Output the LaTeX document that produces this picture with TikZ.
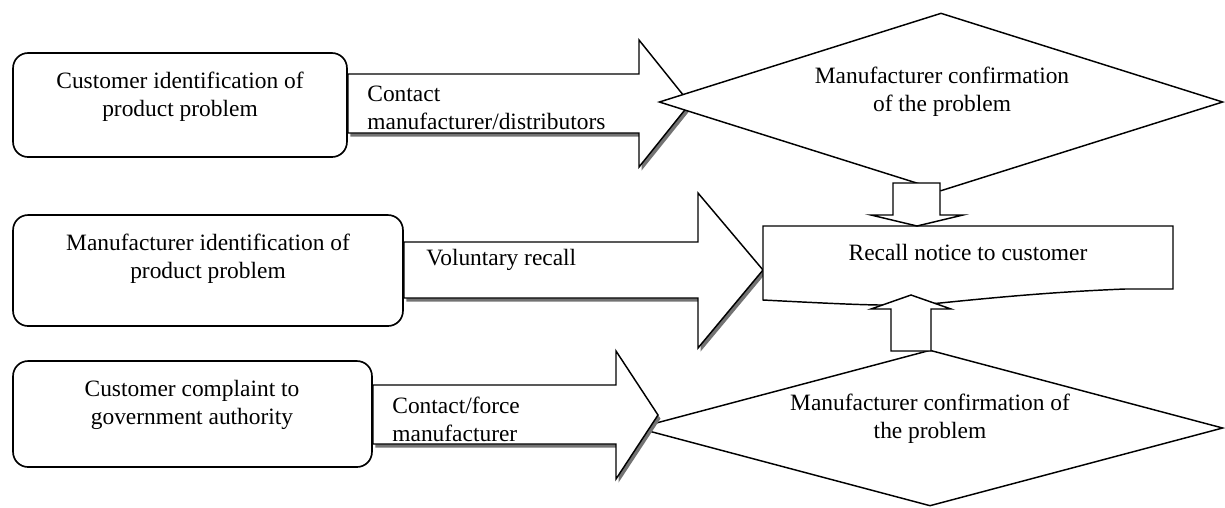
\documentclass[tikz,border=0pt]{standalone}
\usepackage{fontspec}
\setmainfont{Liberation Serif}
\usetikzlibrary{shapes.geometric}

\begin{document}
\begin{tikzpicture}[x=0.018cm, y=-0.018cm,
    every node/.style={font=\fontsize{12}{14.4}\selectfont, inner sep=0pt},
    proc/.style={draw, rounded corners=0.27cm, line width=0.85pt, fill=white},
    lbl/.style={align=center},
    blk/.style={draw, line width=0.75pt, fill=white,
      preaction={fill=black!55, transform canvas={xshift=0.045cm, yshift=-0.065cm}}},
    flat/.style={draw, line width=0.75pt, fill=white},
    judge/.style={diamond, draw, line width=0.75pt, fill=white}]

  \useasboundingbox (0,0) rectangle (1225,507);

  % the three sources
  \node (custbox) [proc, minimum width=6.012cm, minimum height=1.872cm] at (180,105)   {};
  \node (manbox)  [proc, minimum width=7.02cm,  minimum height=1.998cm] at (208,270.5) {};
  \node (govbox)  [proc, minimum width=6.462cm, minimum height=1.908cm] at (192.5,414) {};

  % top path
  \draw [blk] (custbox.east |- 0,74) -- (639,74) -- (639,40) -- (690,103.5)
    -- (639,167) -- (639,133) -- (custbox.east |- 0,133) -- cycle;
  \node (conf1) [judge, minimum width=10.152cm, minimum height=3.204cm] at (941,102) {};

  % middle path
  \draw [blk] (manbox.east |- 0,242) -- (698,242) -- (698,193) -- (763,270)
    -- (698,348) -- (698,298) -- (manbox.east |- 0,298) -- cycle;
  \draw [flat] (763,226) -- (1173,226) -- (1173,289) -- (1125,289)
    .. controls (1050,292) and (990,298) .. (940,303)
    .. controls (900,307) and (860,305) .. (763,300) -- cycle;
  \draw [flat] (893,183) -- (940,183) -- (940,215) -- (963,215) -- (917,226)
    -- (871,215) -- (893,215) -- cycle;

  % bottom path
  \node (conf2) [judge, minimum width=10.548cm, minimum height=2.808cm] at (930,428) {};
  \draw [flat] (891,351) -- (931,351) -- (931,309) -- (951,309) -- (911,295)
    -- (871,309) -- (891,309) -- cycle;
  \draw [blk] (govbox.east |- 0,385) -- (616,385) -- (616,351) -- (658,415)
    -- (616,479) -- (616,444) -- (govbox.east |- 0,444) -- cycle;

  % texts
  \node (custtxt)  [lbl] at (180,97)    {Customer identification of\\product problem};
  \node (mantxt)   [lbl] at (208,258.5) {Manufacturer identification of\\product problem};
  \node (govtxt)   [lbl] at (192,404.5) {Customer complaint to\\government authority};
  \node (conftxt1) [lbl] at (942,92)    {Manufacturer confirmation\\of the problem};
  \node (conftxt2) [lbl] at (930,419)   {Manufacturer confirmation of\\the problem};
  \node (notice)         at (968,252)   {Recall notice to customer};

  \node (contact)   [align=left, anchor=west] at (367,108) {Contact\\manufacturer/distributors};
  \node (voluntary) [anchor=west]             at (426,260) {Voluntary recall};
  \node (force)     [align=left, anchor=west] at (392,419) {Contact/force\\manufacturer};
\end{tikzpicture}
\end{document}
